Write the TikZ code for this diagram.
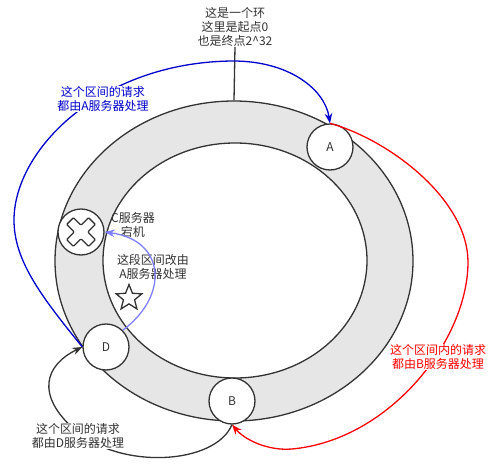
\documentclass[tikz,border=0pt]{standalone}
\usepackage{fontspec}
\setmainfont{Noto Sans CJK SC}
\usetikzlibrary{shapes.geometric,arrows.meta}
\definecolor{ringgray}{HTML}{E6E6E6}
\definecolor{dk}{HTML}{333333}
\definecolor{bl}{HTML}{0000CC}
\definecolor{rd}{HTML}{FF0000}
\definecolor{pu}{HTML}{7F7FFF}
\begin{document}
\begin{tikzpicture}[x=1pt,y=-1pt,
  every node/.style={font=\fontsize{12pt}{14pt}\selectfont, inner sep=0pt, text=dk},
  ringshape/.style={ellipse, draw=dk, line width=1.3pt},
  srv/.style={circle, draw=dk, fill=white, line width=1.3pt, minimum size=46pt},
  lbl/.style={align=center},
  tip/.style={-{Stealth[length=10pt,width=7.5pt]}},
  conn/.style={line width=1.3pt, tip}]
\useasboundingbox (0,0) rectangle (491,469);
% ring
\node[ringshape, minimum width=358pt, minimum height=320pt, fill=ringgray] (outer) at (234,261) {};
\node[ringshape, minimum width=264pt, minimum height=235pt, fill=white] (inner) at (235,260.5) {};
% servers
\node[srv] (A) at (330,147) {A};
\node[srv] (B) at (232,401) {B};
\node[srv] (D) at (106,347) {D};
\node[srv] (C) at (81,232) {};
\begin{scope}[shift={(81,232)}, rotate=45]
  \draw[dk, line width=1.3pt, rounded corners=1pt, fill=white]
    (4.8,15.5) -- (4.8,4.8) -- (15.5,4.8) -- (15.5,-4.8) -- (4.8,-4.8) -- (4.8,-15.5)
    -- (-4.8,-15.5) -- (-4.8,-4.8) -- (-15.5,-4.8) -- (-15.5,4.8) -- (-4.8,4.8) -- (-4.8,15.5) -- cycle;
\end{scope}
\node[star, star points=5, star point ratio=2.3, draw=dk, line width=1.3pt, minimum size=27pt] (star) at (129,298) {};
% labels
\node[lbl] (toplbl) at (235,27) {这是一个环\\这里是起点0\\也是终点2\textasciicircum 32};
\node[lbl] (clbl) at (133,225) {C服务器\\宕机};
\node[lbl] (cchg) at (153,267) {这段区间改由\\A服务器处理};
% connectors
\draw[dk, line width=1.3pt] (toplbl.south) -- (outer.north);
\draw[conn, bl] (D.west) .. controls (40,295) and (14,260) .. (14,220)
  .. controls (14,150) and (100,62) .. (233,61)
  .. controls (290,61) and (325,90) .. (A.north);
\draw[conn, rd] (A.north) .. controls (390,140) and (468,200) .. (468,262)
  .. controls (468,340) and (390,440) .. (292,449)
  .. controls (268,451) and (245,440) .. (B.south);
\draw[conn, dk] (B.south) .. controls (215,465) and (120,470) .. (75,430)
  .. controls (35,395) and (45,365) .. (D.west);
\draw[conn, pu] (D.north east) .. controls (170,295) and (165,240) .. (C.east);
% labels with background
\node[lbl, fill=white, text=bl] (alab) at (103,99) {这个区间的请求\\都由A服务器处理};
\node[lbl, fill=white, text=rd] (blab) at (438,357) {这个区间内的请求\\都由B服务器处理};
\node[lbl, fill=white] (dlab) at (78,436) {这个区间的请求\\都由D服务器处理};
\end{tikzpicture}
\end{document}
